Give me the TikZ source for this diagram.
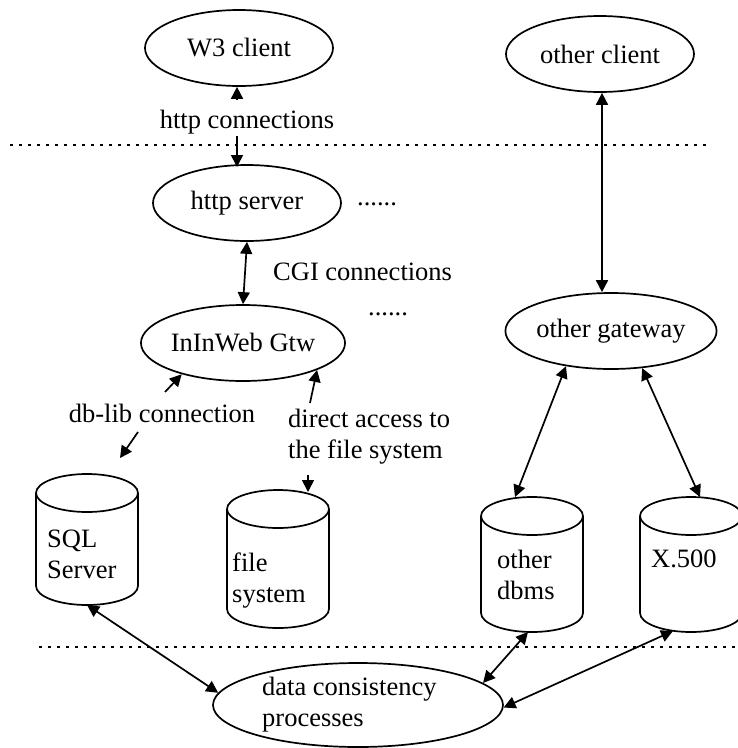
\documentclass[tikz,border=0pt]{standalone}
\usepackage{fontspec}
\setmainfont{Liberation Serif}
\usetikzlibrary{arrows.meta,shapes.geometric}
\tikzset{
  ell/.style={draw, ellipse, line width=1.7pt, inner sep=0pt, minimum width=188pt, minimum height=76pt},
  lbl/.style={inner sep=0pt, align=left},
  arr/.style={line width=1.7pt, -{Triangle[length=12pt,width=12pt]}},
  darr/.style={line width=1.7pt, {Triangle[length=12pt,width=12pt]}-{Triangle[length=12pt,width=12pt]}},
  sep/.style={line width=2.2pt, dash pattern=on 3pt off 6pt},
  cyl/.style={draw, line width=1.7pt}
}
\newcommand\mycyl[3]{%
  \draw[cyl] (#1-51,#2) -- (#1-51,#3) arc[start angle=180, end angle=0, x radius=51, y radius=19] -- (#1+51,#2);
  \draw[cyl] (#1,#2) ellipse[x radius=51, y radius=19];
}
\begin{document}
\begin{tikzpicture}[x=1pt, y=-1pt, font=\fontsize{26.5}{31}\selectfont]
\useasboundingbox (0,0) rectangle (738,748);

% separators
\draw[sep] (10,145) -- (707,145);
\draw[sep] (39,647) -- (738,647);

% ellipses
\node[ell] (w3) at (239,48) {W3 client};
\node[ell] (oc) at (600,54) {other client};
\node[ell] (hs) at (247,203) {http server};
\node[ell] (gw) at (243,343) {InInWeb Gtw};
\node[ell] (og) at (611,331) {other gateway};
\node[ell, minimum width=290pt, minimum height=84pt] (dc) at (358,705) {};
\node[lbl, anchor=west] (dct) at (262,705) {data consistency\\processes};

% cylinders
\mycyl{87}{493}{586}
\mycyl{278}{509}{609}
\mycyl{532}{516}{613}
\mycyl{691}{516}{613}
\node[lbl, anchor=west] (sqlt) at (47,554) {SQL\\Server};
\node[lbl, anchor=west] (fst) at (232,581) {file\\system};
\node[lbl, anchor=west] (dbt) at (497,575) {other\\dbms};
\node[lbl, anchor=west] (xt) at (651,559) {X.500};

\coordinate (sqlbot) at (87,605);
\coordinate (fstop) at (308,492);
\coordinate (dbtop) at (515,497);
\coordinate (dbbot) at (528,632);
\coordinate (xtop) at (700,497);
\coordinate (xbot) at (673,631);

% labels
\node[lbl] (hc) at (247,122) {http connections};
\node[lbl, anchor=west] (cgi) at (273,272) {CGI connections};
\node[lbl] (dbl) at (162,413) {db-lib connection};
\node[lbl, anchor=west] (da) at (288,437) {direct access to\\the file system};
\node[lbl, anchor=base west] (dots1) at (357,205) {......};
\node[lbl, anchor=base west] (dots2) at (368,315) {......};

\coordinate (dbl1) at (165,392);
\coordinate (dbl2a) at (138,432);
\coordinate (dbl2b) at (120,458);
\coordinate (da1) at (310,403);
\coordinate (da2) at (308,475);

% connectors
\draw[arr] (237,100) -- (w3.south -| 237,0);
\draw[arr] (237,136) -- (237,167);
\draw[darr] (hs.south) -- (gw.north);
\draw[darr] (oc.south -| 602,0) -- (og.north -| 602,0);
\draw[arr] (dbl1) -- (gw.207);
\draw[arr] (dbl2a) -- (dbl2b);
\draw[arr] (da1) -- (gw.-20);
\draw[arr] (da2) -- (fstop);
\draw[darr] (og.218) -- (dbtop);
\draw[darr] (og.-50) -- (xtop);
\draw[darr] (sqlbot) -- (dc.175);
\draw[darr] (dbbot) -- (dc.10);
\draw[darr] (xbot) -- (dc.-1);
\end{tikzpicture}
\end{document}
